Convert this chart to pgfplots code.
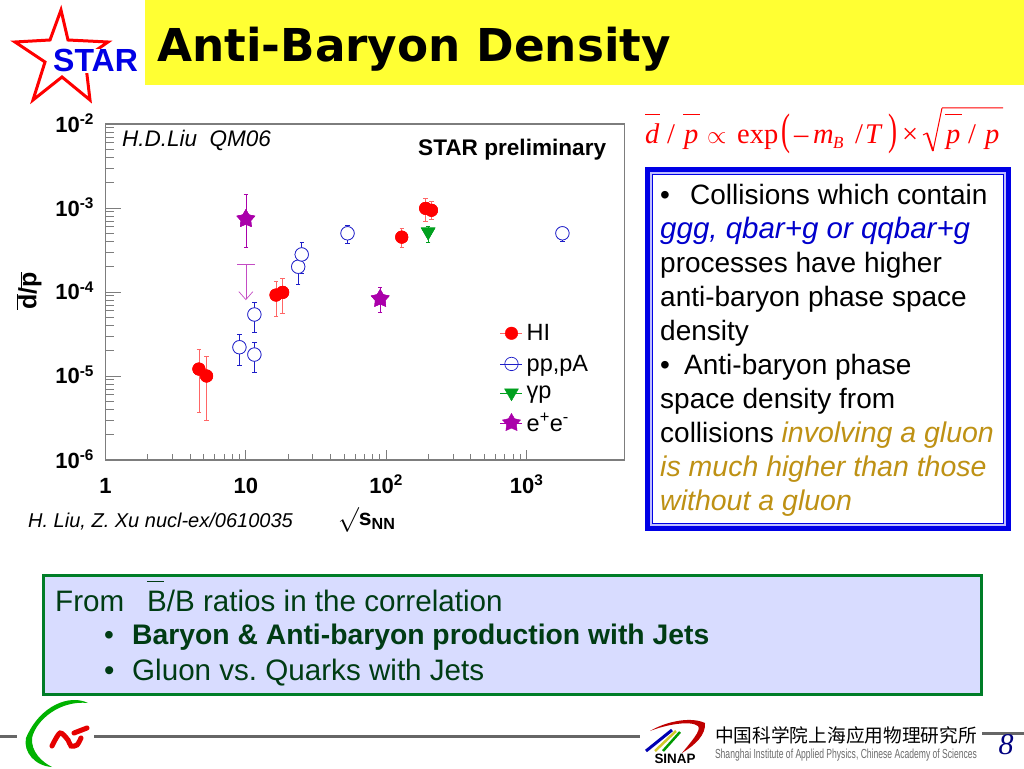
\documentclass[border=0pt]{standalone}
\usepackage{fontspec}
\usepackage{pgfplots}
\usepackage{pgfplotstable}
\pgfplotsset{compat=1.18}
\usetikzlibrary{arrows.meta}
\setmainfont{Liberation Sans}
\newfontfamily\tnr{Liberation Serif}
\newfontfamily\verd{DejaVu Sans}
\newfontfamily\cjk{Noto Sans CJK SC}
\newcommand{\fs}[1]{\fontsize{#1}{#1}\selectfont}
\definecolor{panelblue}{RGB}{0,0,230}
\definecolor{panellight}{RGB}{190,190,255}
\definecolor{gold}{RGB}{190,145,20}
\definecolor{dkgreen}{RGB}{0,60,20}
\definecolor{boxgreen}{RGB}{0,125,40}
\definecolor{lav}{RGB}{216,220,255}
\definecolor{barv}{RGB}{170,0,170}
\definecolor{axgray}{RGB}{125,125,125}
\definecolor{band}{RGB}{255,255,51}
\definecolor{ppblue}{RGB}{30,30,200}
\definecolor{gpgreen}{RGB}{0,160,30}
\pgfdeclareplotmark{fstar}{%
  \pgfpathmoveto{\pgfqpointpolar{90}{\pgfplotmarksize}}%
  \pgfpathlineto{\pgfqpointpolar{126}{0.55\pgfplotmarksize}}%
  \pgfpathlineto{\pgfqpointpolar{162}{\pgfplotmarksize}}%
  \pgfpathlineto{\pgfqpointpolar{198}{0.55\pgfplotmarksize}}%
  \pgfpathlineto{\pgfqpointpolar{234}{\pgfplotmarksize}}%
  \pgfpathlineto{\pgfqpointpolar{270}{0.55\pgfplotmarksize}}%
  \pgfpathlineto{\pgfqpointpolar{306}{\pgfplotmarksize}}%
  \pgfpathlineto{\pgfqpointpolar{342}{0.55\pgfplotmarksize}}%
  \pgfpathlineto{\pgfqpointpolar{18}{\pgfplotmarksize}}%
  \pgfpathlineto{\pgfqpointpolar{54}{0.55\pgfplotmarksize}}%
  \pgfpathclose\pgfusepathqfillstroke}
\pgfplotstableread{
x     y       ep      em
4.63  1.21e-5 0.87e-5 0.84e-5
5.25  1.00e-5 0.70e-5 0.70e-5
16.4  9.2e-5  4.1e-5  4.0e-5
18.3  9.9e-5  4.6e-5  4.4e-5
129   4.5e-4  1.2e-4  1.1e-4
191   9.9e-4  3.1e-4  3.0e-4
210   9.4e-4  2.6e-4  2.1e-4
}\hidata
\pgfplotstableread{
x     y       ep      em
9.0   2.2e-5  0.9e-5  0.87e-5
11.5  5.4e-5  2.1e-5  2.1e-5
11.5  1.8e-5  0.7e-5  0.7e-5
23.6  2.0e-4  0.8e-4  0.78e-4
53    5.0e-4  1.2e-4  1.2e-4
1800  5.0e-4  0.7e-4  1.0e-4
}\ppdata
\pgfplotstableread{
x     y       ep      em
25    2.8e-4  1.1e-4  1.13e-4
}\pptop
\pgfplotstableread{
x     y       ep      em
199   5.2e-4  0.8e-4  1.3e-4
}\gpdata
\pgfplotstableread{
x     y       ep      em
10    7.4e-4  7.1e-4  4.0e-4
90.6  8.3e-5  3.0e-5  2.6e-5
}\eedata
\begin{document}
\frenchspacing
\begin{tikzpicture}
\path[use as bounding box] (0,0) rectangle (1024pt,768pt);
\fill[white] (0,0) rectangle (1024pt,768pt);
% y ticks
\begin{axis}[
  at={(105.5pt,308pt)},anchor=south west,
  scale only axis,width=519.2pt,height=336pt,
  xmode=log,ymode=log,xmin=1,xmax=5000,ymin=1e-6,ymax=1e-2,
  axis line style={axgray,line width=1.1pt},
  tick style={axgray,line width=0.8pt},
  tick align=inside,ytick pos=left,
  xmajorticks=false,xminorticks=false,
  major tick length=16pt,minor tick length=8.5pt,
  ytick={1e-6,1e-5,1e-4,1e-3,1e-2},
  yticklabels={\textbf{10\textsuperscript{-6}},\textbf{10\textsuperscript{-5}},\textbf{10\textsuperscript{-4}},\textbf{10\textsuperscript{-3}},\textbf{10\textsuperscript{-2}}},
  yticklabel style={font=\fs{22},xshift=-8pt,yshift=1pt},
]
\addplot[draw=none,forget plot] coordinates {(1,1e-6)};
\end{axis}
% x ticks and data
\begin{axis}[
  at={(105.5pt,308pt)},anchor=south west,
  scale only axis,width=519.2pt,height=336pt,
  xmode=log,ymode=log,xmin=1,xmax=5000,ymin=1e-6,ymax=1e-2,
  axis line style={axgray,line width=1.1pt},
  tick style={axgray,line width=0.8pt},
  tick align=inside,xtick pos=bottom,
  ymajorticks=false,yminorticks=false,
  major tick length=10.5pt,minor tick length=6pt,
  xtick={1,10,100,1000},
  xticklabels={\textbf{1},\textbf{10},\textbf{10\textsuperscript{2}},\textbf{10\textsuperscript{3}}},
  xticklabel style={font=\fs{22},anchor=base,yshift=-33pt},
  legend style={at={(rel axis cs:0.76,0.41)},anchor=north west,draw=none,fill=none,
    font=\fs{23.5},row sep=9pt,inner sep=0pt,/tikz/column 1/.style={column sep=2pt}},
  legend cell align=left,
  legend image code/.code={%
    \draw[#1,sharp plot,mark repeat=2,mark phase=2] plot coordinates {(-11pt,0pt)(0pt,0pt)(11pt,0pt)};},
]
\addplot[only marks,draw=red!60,mark=*,mark size=6.3pt,mark options={draw=red,fill=red},error bars/.cd,y dir=both,y explicit,error bar style={line width=0.7pt,red!60},error mark options={rotate=90,mark size=2.2pt,line width=0.7pt,red!60}]
  table[x=x,y=y,y error plus=ep,y error minus=em] {\hidata};
\addlegendentry{HI}
\addplot[only marks,draw=ppblue,mark=o,mark size=6.7pt,mark options={draw=ppblue,line width=0.7pt},error bars/.cd,y dir=both,y explicit,error bar style={line width=0.7pt,ppblue},error mark options={rotate=90,mark size=2.2pt,line width=0.7pt,ppblue}]
  table[x=x,y=y,y error plus=ep,y error minus=em] {\ppdata};
\addlegendentry{pp,pA}
\addplot[only marks,draw=gpgreen,mark=triangle*,mark size=8pt,mark options={rotate=180,draw=gpgreen,fill=gpgreen},error bars/.cd,y dir=both,y explicit,error bar style={line width=0.7pt,gpgreen},error mark options={rotate=90,mark size=2.2pt,line width=0.7pt,gpgreen}]
  table[x=x,y=y,y error plus=ep,y error minus=em] {\gpdata};
\addlegendentry{γp}
\addplot[only marks,draw=barv,mark=fstar,mark size=9.5pt,mark options={draw=barv,fill=barv},error bars/.cd,y dir=both,y explicit,error bar style={line width=0.7pt,barv},error mark options={rotate=90,mark size=2.2pt,line width=0.7pt,barv}]
  table[x=x,y=y,y error plus=ep,y error minus=em] {\eedata};
\addlegendentry{e\textsuperscript{+}e\textsuperscript{-}}
\addplot[forget plot,barv!70,line width=0.7pt,-{Straight Barb[length=8pt,width=14pt]}] coordinates {(10,2.14e-4)(10,8e-5)};
\addplot[forget plot,barv!70,line width=0.7pt] coordinates {(8.68,2.14e-4)(11.55,2.14e-4)};
% marks again on top of their own error bars
\addplot[forget plot,only marks,mark=*,mark size=6.3pt,mark options={draw=red,fill=red}] table[x=x,y=y] {\hidata};
\addplot[forget plot,only marks,mark=*,mark size=6.7pt,mark options={draw=ppblue,fill=white,line width=0.7pt}] table[x=x,y=y] {\ppdata};
\addplot[forget plot,only marks,mark=triangle*,mark size=8pt,mark options={rotate=180,draw=gpgreen,fill=gpgreen}] table[x=x,y=y] {\gpdata};
\addplot[forget plot,only marks,mark=fstar,mark size=9.5pt,mark options={draw=barv,fill=barv}] table[x=x,y=y] {\eedata};
\addplot[forget plot,only marks,mark=o,mark size=6.7pt,mark options={draw=ppblue,line width=0.7pt},error bars/.cd,y dir=both,y explicit,error bar style={line width=0.7pt,ppblue},error mark options={rotate=90,mark size=2.2pt,line width=0.7pt,ppblue}]
  table[x=x,y=y,y error plus=ep,y error minus=em] {\pptop};
\addplot[forget plot,only marks,mark=*,mark size=6.7pt,mark options={draw=ppblue,fill=white,line width=0.7pt}] table[x=x,y=y] {\pptop};
\end{axis}
\begin{scope}[x=1pt,y=-1pt,yshift=768pt]
% header
\fill[band] (145,0) rectangle (1024,85);
\node[anchor=base west,inner sep=0pt] at (157,61.5) {\verd\bfseries\fs{45.3}Anti-Baryon Density};
\draw[red,line width=3pt,line join=miter] (61,10)--(68,40)--(108,42)--(85,58)--(90,100)--(62,77)--(33,100)--(45,62)--(15,42)--(50,40)--cycle;
\node[anchor=base west,inner sep=1pt,fill=white,text=blue!90!black] at (52,72) {\bfseries\fs{32}STAR};
% axis texts
\node[anchor=base west,inner sep=0pt] at (122,146.5) {\itshape\fs{22.5}H.D.Liu\ \ QM06};
\node[anchor=base west,inner sep=0pt] at (418,156) {\bfseries\fs{22.6}STAR preliminary};
\node[anchor=base west,inner sep=0pt] at (28,528) {\itshape\fs{20}H. Liu, Z. Xu nucl-ex/0610035};
\node[anchor=base west,inner sep=0pt] at (338,526) {\fs{23}$\surd$\textbf{s\textsubscript{NN}}};
\node[rotate=90,inner sep=0pt] at (29,291) {\bfseries\fs{25}$\overline{\mbox{d}}$/$\overline{\mbox{p}}$};
% formula
\begin{scope}[every node/.style={anchor=base west,inner sep=0pt,text=red,font=\tnr\fs{28.5}}]
\node at (645,144) {\itshape d};
\node at (667,144) {/};
\node at (684,144) {\itshape p};
\node at (707,144) {\fs{35}$\propto$};
\node at (737,144) {exp};
\node at (794,144) {–};
\node at (813,144) {\itshape m};
\node at (833,149) {\itshape\fs{17}B};
\node at (855,144) {/};
\node at (865,144) {\itshape T};
\node at (902,144) {×};
\node at (946,144) {\itshape p};
\node at (968,144) {/};
\node at (985,144) {\itshape p};
\node[anchor=center] at (786,134) {\resizebox*{9pt}{40pt}{(}};
\node[anchor=center] at (893,134) {\resizebox*{9pt}{40pt}{)}};
\end{scope}
\draw[red,line width=1pt] (645,115)--(660,115) (683,115)--(700,115) (945,115)--(962,115);
\draw[red,line width=1pt] (923,135)--(927,133) (942,108)--(1003,108);
\draw[red,line width=1.8pt] (927,133)--(933,151);
\draw[red,line width=1pt] (933,151)--(942,108);
% blue panel
\fill[white] (646,168) rectangle (1010,530);
\draw[panelblue,line width=5pt] (647.5,169.5) rectangle (1008.5,528.5);
\draw[panellight,line width=2pt] (651,173) rectangle (1005,525);
\draw[panelblue,line width=1pt] (652.5,174.5) rectangle (1003.5,523.5);
% bottom box
\draw[boxgreen,fill=lav,line width=3pt] (43,576) rectangle (981,694);
\begin{scope}[every node/.style={anchor=base west,inner sep=0pt,font=\fs{28}}]
\node at (660,204.5) {•};
\node at (690,204.5) {Collisions which contain};
\node[text=blue!80!black] at (660,238.5) {\itshape\fs{29.5}ggg, qbar+g or qqbar+g};
\node at (660,272.5) {processes have higher};
\node at (660,306.5) {anti-baryon phase space};
\node at (660,340.5) {density};
\node at (660,374.5) {•};
\node at (684,374.5) {Anti-baryon phase};
\node at (660,408.5) {space density from};
\node at (660,442.5) {collisions \textcolor{gold}{\itshape\fs{28.5}involving a gluon}};
\node[text=gold] at (660,476.5) {\itshape\fs{28.5}is much higher than those};
\node[text=gold] at (660,510.5) {\itshape\fs{28.5}without a gluon};
\node[text=dkgreen] at (55,611) {\fs{29.6}From};
\node[text=dkgreen] at (147,611) {\fs{29.6}B/B ratios in the correlation};
\node[text=dkgreen] at (104,644) {•};
\node[text=dkgreen] at (132,644) {\bfseries\fs{28.3}Baryon \& Anti-baryon production with Jets};
\node[text=dkgreen] at (104,680) {\fs{29.6}•};
\node[text=dkgreen] at (132,680) {\fs{29.6}Gluon vs. Quarks with Jets};
\end{scope}
\draw[dkgreen,line width=1pt] (147,582)--(164,582);
% footer
\fill[gray!80!black] (0,735.2) rectangle (17,738.2);
\fill[gray!80!black] (94,735.2) rectangle (640,738.2);
\fill[gray!80!black] (982,731.5) rectangle (1024,734.5);
\fill[green!70!black] (88,703) .. controls (70,694) and (40,705) .. (26,738) .. controls (23,752) and (35,766) .. (52,767) .. controls (42,762) and (31,752) .. (32,738) .. controls (36,720) and (60,700) .. (88,703) -- cycle;
\draw[red!90!black,line width=5pt,line cap=round] plot[smooth] coordinates {(52,746)(60,733)(68,740)(71,746)(77,745)(81,738)};
\draw[red!90!black,line width=5pt,line cap=round] (74,733)--(87,728);
\fill[red!75!black] (650,731) .. controls (665,722) and (690,716) .. (705,723) .. controls (706,735) and (695,745) .. (682,753) .. controls (690,743) and (702,730) .. (698,726) .. controls (690,720) and (665,725) .. (650,731) -- cycle;
\draw[blue!70!black,line width=3pt] (646,751)--(672,730);
\draw[yellow!80!black,line width=2.5pt] (655,751)--(676,731);
\draw[green!60!black,line width=2.5pt] (663,751)--(680,732);
\node[anchor=center,inner sep=0pt] at (675,759) {\resizebox{41pt}{9.5pt}{\bfseries SINAP}};
\node[anchor=center,inner sep=0pt] at (846,735) {\cjk\fs{18.7}中国科学院上海应用物理研究所};
\node[anchor=center,inner sep=0pt,text=gray!85!black] at (846,755) {\resizebox{262pt}{9.5pt}{Shanghai Institute of Applied Physics, Chinese Academy of Sciences}};
\node[anchor=base,inner sep=0pt,text=blue!50!black] at (1006,754) {\tnr\itshape\fs{30}8};
\end{scope}
\end{tikzpicture}
\end{document}
